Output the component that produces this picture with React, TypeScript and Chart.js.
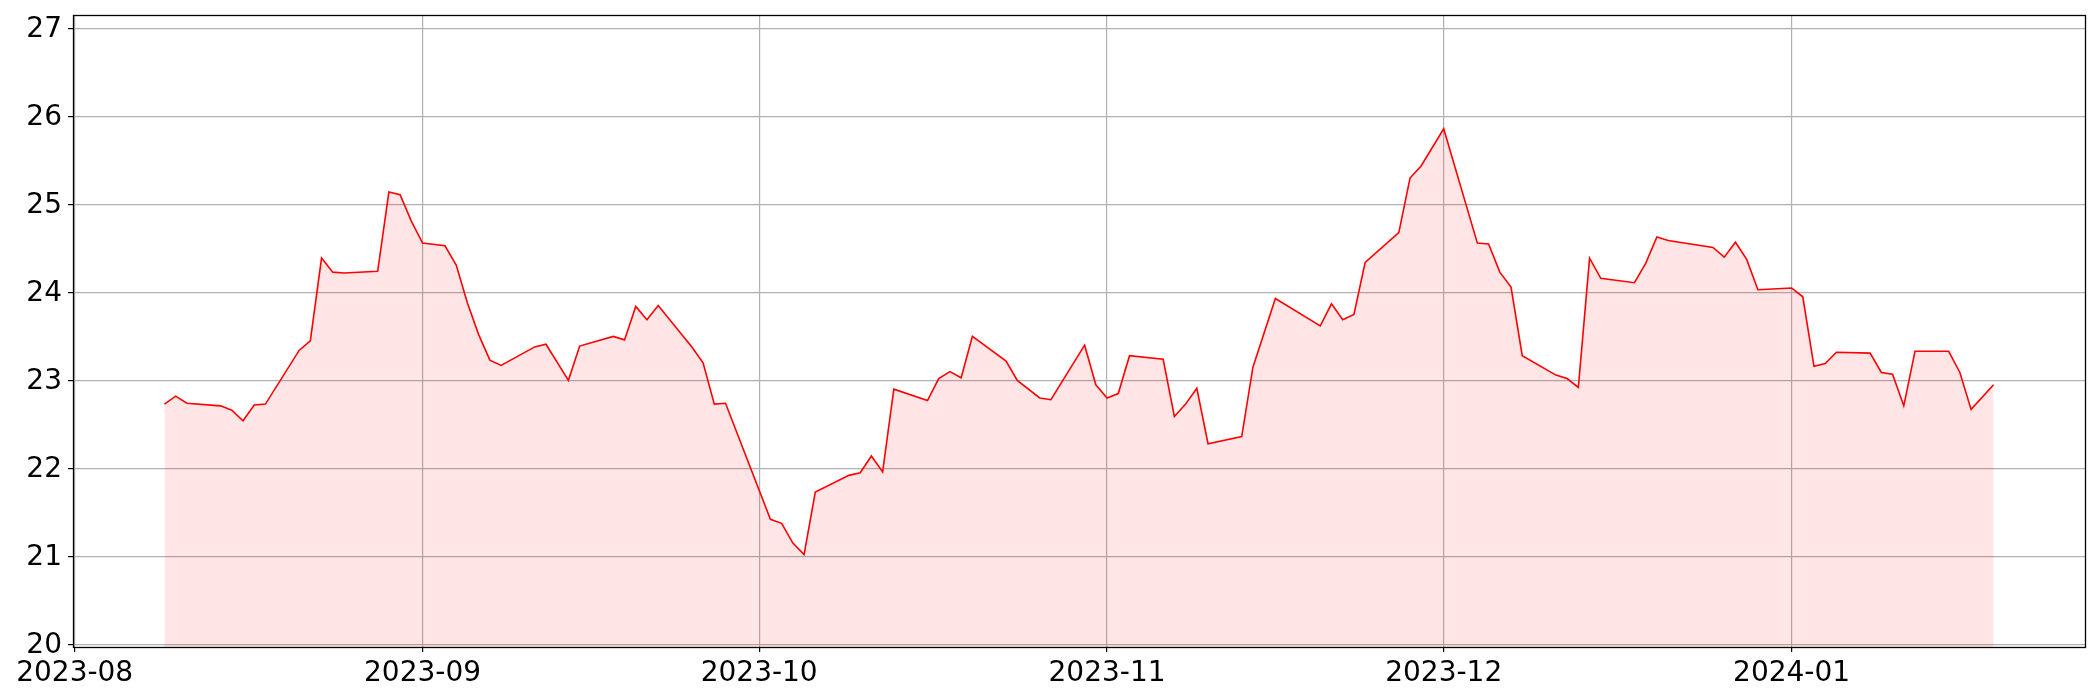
import React, { useEffect, useRef } from 'react';
import { Chart, registerables } from 'chart.js';

Chart.register(...registerables);

const dates: string[] = [
  '2023-08-09', '2023-08-10', '2023-08-11', '2023-08-14', '2023-08-15', '2023-08-16', '2023-08-17', '2023-08-18',
  '2023-08-21', '2023-08-22', '2023-08-23', '2023-08-24', '2023-08-25', '2023-08-28', '2023-08-29', '2023-08-30',
  '2023-08-31', '2023-09-01', '2023-09-03', '2023-09-04', '2023-09-05', '2023-09-06', '2023-09-07', '2023-09-08',
  '2023-09-11', '2023-09-12', '2023-09-14', '2023-09-15', '2023-09-18', '2023-09-19', '2023-09-20', '2023-09-21',
  '2023-09-22', '2023-09-25', '2023-09-26', '2023-09-27', '2023-09-28', '2023-10-02', '2023-10-03', '2023-10-04',
  '2023-10-05', '2023-10-06', '2023-10-09', '2023-10-10', '2023-10-11', '2023-10-12', '2023-10-13', '2023-10-16',
  '2023-10-17', '2023-10-18', '2023-10-19', '2023-10-20', '2023-10-23', '2023-10-24', '2023-10-26', '2023-10-27',
  '2023-10-30', '2023-10-31', '2023-11-01', '2023-11-02', '2023-11-03', '2023-11-06', '2023-11-07', '2023-11-08',
  '2023-11-09', '2023-11-10', '2023-11-13', '2023-11-14', '2023-11-16', '2023-11-20', '2023-11-21', '2023-11-22',
  '2023-11-23', '2023-11-24', '2023-11-27', '2023-11-28', '2023-11-29', '2023-12-01', '2023-12-04', '2023-12-05',
  '2023-12-06', '2023-12-07', '2023-12-08', '2023-12-11', '2023-12-12', '2023-12-13', '2023-12-14', '2023-12-15',
  '2023-12-18', '2023-12-19', '2023-12-20', '2023-12-21', '2023-12-25', '2023-12-26', '2023-12-27', '2023-12-28',
  '2023-12-29', '2024-01-01', '2024-01-02', '2024-01-03', '2024-01-04', '2024-01-05', '2024-01-08', '2024-01-09',
  '2024-01-10', '2024-01-11', '2024-01-12', '2024-01-15', '2024-01-16', '2024-01-17', '2024-01-19',
];

const prices: number[] = [
  22.73, 22.82, 22.74, 22.71, 22.66, 22.54, 22.72, 22.73,
  23.34, 23.45, 24.39, 24.23, 24.22, 24.24, 25.14, 25.11,
  24.81, 24.56, 24.53, 24.31, 23.88, 23.52, 23.23, 23.17,
  23.38, 23.41, 23.0, 23.39, 23.5, 23.46, 23.84, 23.69,
  23.85, 23.38, 23.2, 22.73, 22.74, 21.42, 21.375, 21.15,
  21.02, 21.73, 21.92, 21.95, 22.14, 21.96, 22.9, 22.77,
  23.02, 23.1, 23.03, 23.5, 23.22, 23.0, 22.8, 22.78,
  23.4, 22.95, 22.8, 22.85, 23.28, 23.24, 22.59, 22.73,
  22.91, 22.28, 22.36, 23.15, 23.93, 23.62, 23.87, 23.69,
  23.75, 24.34, 24.68, 25.3, 25.44, 25.86, 24.56, 24.55,
  24.23, 24.06, 23.28, 23.06, 23.02, 22.92, 24.39, 24.16,
  24.11, 24.33, 24.63, 24.59, 24.51, 24.4, 24.57, 24.375,
  24.03, 24.05, 23.95, 23.16, 23.19, 23.32, 23.31, 23.09,
  23.07, 22.71, 23.33, 23.33, 23.09, 22.67, 22.95,
];

const monthTicks: string[] = ['2023-08', '2023-09', '2023-10', '2023-11', '2023-12', '2024-01'];
const yTicks: number[] = [20, 21, 22, 23, 24, 25, 26, 27];

const toTs = (s: string): number => {
  const parts = s.split('-').map(Number);
  return Date.UTC(parts[0], parts[1] - 1, parts[2] || 1);
};

const FONT = { family: "'DejaVu Sans', sans-serif", size: 28 };

export default function App() {
  const ref = useRef<HTMLCanvasElement | null>(null);

  useEffect(() => {
    if (!ref.current) return;
    const xs = dates.map(toTs);
    const data = xs.map((x, i) => ({ x, y: prices[i] }));
    const span = xs[xs.length - 1] - xs[0];
    const pMin = Math.min(...prices);
    const pMax = Math.max(...prices);

    const framePlugin = {
      id: 'frame',
      afterDatasetsDraw(chart: any) {
        const { ctx, chartArea: a } = chart;
        ctx.save();
        ctx.strokeStyle = '#000';
        ctx.lineWidth = 1.3;
        ctx.strokeRect(Math.round(a.left) + 0.5, Math.round(a.top) + 0.5, Math.round(a.right - a.left), Math.round(a.bottom - a.top));
        ctx.restore();
      },
    };

    const chart = new Chart(ref.current, {
      type: 'line',
      data: {
        datasets: [
          {
            data,
            borderColor: '#ff0000',
            borderWidth: 1.6,
            backgroundColor: 'rgba(255,0,0,0.1)',
            fill: 'origin',
            pointRadius: 0,
            tension: 0,
          },
        ],
      },
      options: {
        animation: false,
        responsive: false,
        devicePixelRatio: 1,
        maintainAspectRatio: false,
        layout: { padding: { top: 15, right: 15, left: 0, bottom: 0 } },
        plugins: { legend: { display: false }, tooltip: { enabled: false } },
        scales: {
          x: {
            type: 'linear',
            min: xs[0] - 0.05 * span,
            max: xs[xs.length - 1] + 0.05 * span,
            afterBuildTicks: (s: any) => {
              s.ticks = monthTicks.map((m) => ({ value: toTs(m) }));
            },
            afterFit: (s: any) => {
              s.height = 53;
              s.paddingLeft = 0;
              s.paddingRight = 0;
            },
            ticks: {
              callback: (_v: any, i: number) => monthTicks[i],
              font: FONT,
              color: '#000',
              padding: 5,
              maxRotation: 0,
              autoSkip: false,
            },
            grid: { color: '#b0b0b0', lineWidth: 1.2, tickColor: '#000', tickLength: 5, tickWidth: 1.2 },
            border: { display: false },
          },
          y: {
            type: 'linear',
            min: pMin * 0.95,
            max: pMax * 1.05,
            afterBuildTicks: (s: any) => {
              s.ticks = yTicks.map((v) => ({ value: v }));
            },
            afterFit: (s: any) => {
              s.width = 73;
              s.paddingTop = 0;
              s.paddingBottom = 0;
            },
            ticks: {
              callback: (v: any) => String(v),
              font: FONT,
              color: '#000',
              padding: 6,
              labelOffset: 1.5,
              autoSkip: false,
            },
            grid: { color: '#b0b0b0', lineWidth: 1.2, tickColor: '#000', tickLength: 5, tickWidth: 1.2 },
            border: { display: false },
          },
        },
      },
      plugins: [framePlugin],
    } as any);

    return () => chart.destroy();
  }, []);

  return (
    <div style={{ position: 'fixed', left: 0, top: 0, width: 2100, height: 700, background: '#fff' }}>
      <canvas ref={ref} width={2100} height={700} style={{ width: 2100, height: 700, display: 'block' }} />
    </div>
  );
}
